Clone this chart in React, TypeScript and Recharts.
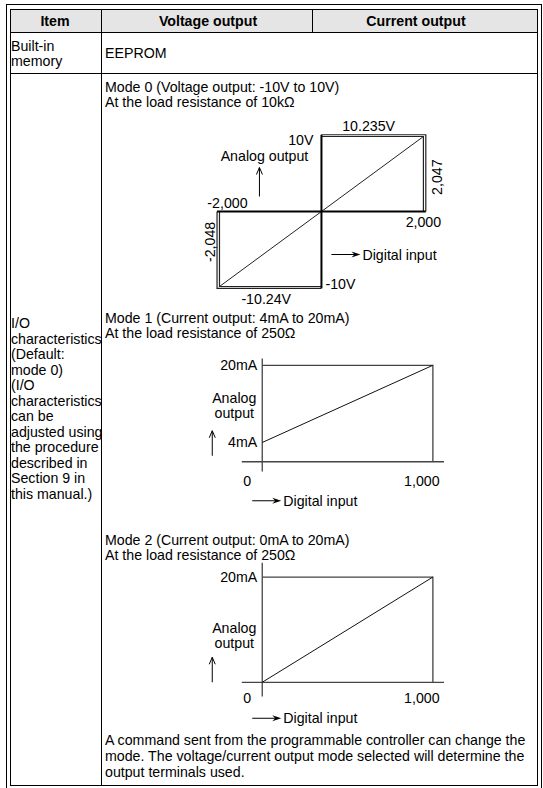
import React from 'react';
import { LineChart, Line, XAxis, YAxis, ReferenceDot } from 'recharts';

// Spec table: analog output module, I/O characteristics sketches.

const HEADERS = ['Item', 'Voltage output', 'Current output'];
const MEMORY_ITEM = ['Built-in', 'memory'];
const MEMORY_VALUE = 'EEPROM';
const IO_ITEM = [
  'I/O',
  'characteristics',
  '(Default:',
  'mode 0)',
  '(I/O',
  'characteristics',
  'can be',
  'adjusted using',
  'the procedure',
  'described in',
  'Section 9 in',
  'this manual.)',
];
const MODE_TITLES = [
  ['Mode 0 (Voltage output: -10V to 10V)', 'At the load resistance of 10k\u03a9'],
  ['Mode 1 (Current output: 4mA to 20mA)', 'At the load resistance of 250\u03a9'],
  ['Mode 2 (Current output: 0mA to 20mA)', 'At the load resistance of 250\u03a9'],
];
const NOTE = [
  'A command sent from the programmable controller can change the',
  'mode. The voltage/current output mode selected will determine the',
  'output terminals used.',
];
const AXIS_Y_TITLE = ['Analog', 'output'];
const AXIS_X_TITLE = 'Digital input';

// mode 0: digital value vs output voltage (min, -full, 0, +full, max)
const M0_DIGITAL = [-2048, -2000, 0, 2000, 2047];
const M0_VOLTS = [-10.24, -10, 0, 10, 10.235];
// mode 1 / mode 2: digital value vs output current
const M1_DIGITAL = [0, 1000];
const M1_MA = [4, 20];
const M2_DIGITAL = [0, 1000];
const M2_MA = [0, 20];
// how far the drawn axes run in the current sketches
const M1_AXIS_X = [-120, 1065];
const M1_AXIS_Y = [-2, 21.4];
const M2_AXIS_X = [-120, 1065];
const M2_AXIS_Y = [-2.7, 22.7];

const FONT = '"Liberation Sans", Arial, Helvetica, sans-serif';
const INK = '#000';
const FS = 14.2;

type Pt = { x: number; y: number };
const pts = (xs: number[], ys: number[]): Pt[] => xs.map((x, i) => ({ x, y: ys[i] }));
const count = (v: number) => v.toLocaleString('en-US');
const volt = (v: number) => `${v}V`;
const milli = (v: number) => `${v}mA`;

type VB = { x: number; y: number };

// label drawn next to a reference point (viewBox comes from recharts)
function Tag({ viewBox, txt, sx = 0, sy = 0, align = 'middle', rot = 0 }: {
  viewBox?: VB; txt: string; sx?: number; sy?: number; align?: 'start' | 'middle' | 'end'; rot?: number;
}) {
  if (!viewBox) return null;
  const x = viewBox.x + sx;
  const y = viewBox.y + sy;
  return (
    <text
      x={x}
      y={y}
      textAnchor={align}
      dominantBaseline="central"
      fontFamily={FONT}
      fontSize={FS}
      fill={INK}
      transform={rot ? `rotate(${rot} ${x} ${y})` : undefined}
    >
      {txt}
    </text>
  );
}

function Pointer({ viewBox, sx = 0, sy = 0, way, len, txt }: {
  viewBox?: VB; sx?: number; sy?: number; way: 'right' | 'up'; len: number; txt?: string;
}) {
  if (!viewBox) return null;
  const x = viewBox.x + sx;
  const y = viewBox.y + sy;
  if (way === 'right') {
    const x2 = x + len;
    return (
      <g>
        <line x1={x} y1={y} x2={x2 - 5} y2={y} stroke={INK} strokeWidth={1} />
        <path d={`M${x2},${y} L${x2 - 9},${y - 3} L${x2 - 6},${y} L${x2 - 9},${y + 3} Z`} fill={INK} />
        {txt && (
          <text x={x2 + 2} y={y} dominantBaseline="central" fontFamily={FONT} fontSize={FS} fill={INK}>
            {txt}
          </text>
        )}
      </g>
    );
  }
  const y2 = y - len;
  return (
    <g>
      <line x1={x} y1={y} x2={x} y2={y2} stroke={INK} strokeWidth={1} />
      <path d={`M${x - 3},${y2 + 7} L${x},${y2} L${x + 3},${y2 + 7}`} fill="none" stroke={INK} strokeWidth={1} />
    </g>
  );
}

const seg = (d: Pt[], key: string, stroke: string, width: number) => (
  <Line
    key={key}
    data={d}
    dataKey="y"
    type="linear"
    stroke={stroke}
    strokeWidth={width}
    dot={false}
    activeDot={false}
    isAnimationActive={false}
  />
);

const mark = (key: string, x: number, y: number, label: React.ReactElement) => (
  <ReferenceDot key={key} x={x} y={y} r={0} fill="none" stroke="none" ifOverflow="visible" label={label} />
);

function VoltageSketch() {
  const [dMin, dNeg, , dPos, dMax] = M0_DIGITAL;
  const [vMin, vNeg, , vPos, vMax] = M0_VOLTS;
  const axes = [pts([dMin, dMax], [0, 0]), pts([0, 0], [vMin, vMax])];
  const frames = [
    pts([0, dMax, dMax], [vMax, vMax, 0]),
    pts([0, dPos, dPos], [vPos, vPos, 0]),
    pts([0, dMin, dMin], [vMin, vMin, 0]),
    pts([0, dNeg, dNeg], [vNeg, vNeg, 0]),
  ];
  const slope = pts([dNeg, dPos], [vNeg, vPos]);
  return (
    <LineChart width={260} height={195} margin={{ top: 0, right: 0, bottom: 0, left: 0 }}>
      <XAxis type="number" dataKey="x" domain={[-2500, 2600]} allowDataOverflow hide />
      <YAxis type="number" dataKey="y" domain={[-13, 13]} allowDataOverflow hide />
      {frames.map((d, i) => seg(d, `f${i}`, '#222', 1.2))}
      {seg(slope, 's', '#222', 1)}
      {axes.map((d, i) => seg(d, `a${i}`, INK, 2))}
      {mark('l1', dMax / 2, vMax, <Tag txt={volt(vMax)} sx={-5} sy={-9} />)}
      {mark('l2', 0, vPos, <Tag txt={volt(vPos)} align="end" sx={-8} sy={3} />)}
      {mark('l3', 0, vPos, <Tag txt={AXIS_Y_TITLE.join(' ')} sx={-57} sy={19} />)}
      {mark('l4', 0, 0, <Pointer way="up" len={29} sx={-62} sy={-15} />)}
      {mark('l5', dNeg, 0, <Tag txt={count(dNeg)} sx={8} sy={-9} />)}
      {mark('l6', dMax, vMax / 2, <Tag txt={count(dMax)} rot={-90} sx={11} sy={4} />)}
      {mark('l7', dPos, 0, <Tag txt={count(dPos)} sx={0} sy={10} />)}
      {mark('l8', dMin, vMin / 2, <Tag txt={count(dMin)} rot={-90} sx={-7} sy={-8} />)}
      {mark('l9', 0, 0, <Pointer way="right" len={29} sx={10} sy={43} txt={AXIS_X_TITLE} />)}
      {mark('l10', 0, vNeg, <Tag txt={volt(vNeg)} align="start" sx={4} sy={-3} />)}
      {mark('l11', dMin / 2, vMin, <Tag txt={volt(vMin)} sx={-3} sy={11} />)}
    </LineChart>
  );
}

function CurrentSketch({ digital, ma, axisX, axisY, height, yMin, zeroDy, titleDy, arrowDy, arrowLen, inputDy }: {
  digital: number[]; ma: number[]; axisX: number[]; axisY: number[]; height: number; yMin: number;
  zeroDy: number; titleDy: number; arrowDy: number; arrowLen: number; inputDy: number;
}) {
  const [d0, d1] = digital;
  const [m0, m1] = ma;
  const axes = [pts(axisX, [0, 0]), pts([0, 0], axisY)];
  const frame = pts([0, d1, d1], [m1, m1, 0]);
  const slope = pts([d0, d1], [m0, m1]);
  return (
    <LineChart width={273} height={height} margin={{ top: 0, right: 0, bottom: 0, left: 0 }}>
      <XAxis type="number" dataKey="x" domain={[-400, 1200]} allowDataOverflow hide />
      <YAxis type="number" dataKey="y" domain={[yMin, 24]} allowDataOverflow hide />
      {axes.map((d, i) => seg(d, `a${i}`, '#444', 1.3))}
      {seg(frame, 'f', '#444', 1.3)}
      {seg(slope, 's', '#111', 1)}
      {mark('t20', 0, m1, <Tag txt={milli(m1)} align="end" sx={-5} />)}
      {m0 > 0 && mark('t4', 0, m0, <Tag txt={milli(m0)} align="end" sx={-5} />)}
      {mark('ya', 0, m1, <Tag txt={AXIS_Y_TITLE[0]} sx={-28} sy={titleDy} />)}
      {mark('yb', 0, m1, <Tag txt={AXIS_Y_TITLE[1]} sx={-28} sy={titleDy + 15} />)}
      {mark('yr', 0, 0, <Pointer way="up" len={arrowLen} sx={-50} sy={arrowDy} />)}
      {mark('x0', 0, 0, <Tag txt={count(d0)} sx={-15} sy={zeroDy} />)}
      {mark('x1', d1, 0, <Tag txt={count(d1)} sx={-11} sy={zeroDy} />)}
      {mark('xr', 0, 0, <Pointer way="right" len={29} sx={-10} sy={inputDy} txt={AXIS_X_TITLE} />)}
    </LineChart>
  );
}

const box = (left: number, top: number, width: number, height: number, extra: React.CSSProperties = {}) => ({
  position: 'absolute' as const, left, top, width, height, ...extra,
});

function Txt({ x, y, children, bold, center, w }: { x: number; y: number; children: React.ReactNode; bold?: boolean; center?: boolean; w?: number }) {
  return (
    <div
      style={{
        position: 'absolute',
        left: center ? x - (w ?? 200) / 2 : x,
        top: y - 8,
        width: center ? w ?? 200 : undefined,
        height: 16,
        lineHeight: '16px',
        whiteSpace: 'nowrap',
        textAlign: center ? 'center' : 'left',
        fontWeight: bold ? 700 : 400,
      }}
    >
      {children}
    </div>
  );
}

export default function App() {
  const L = 10, T = 9, R = 537, B = 785, C1 = 101, C2 = 312, H = 32, R1 = 73;
  const rule = '#000';
  return (
    <div style={{ position: 'relative', width: 543, height: 788, fontFamily: FONT, fontSize: FS, color: INK, background: '#fff' }}>
      <style>{'body{margin:0}'}</style>
      {/* page frame */}
      <div style={box(6, 4, 536, 1, { background: rule })} />
      <div style={box(6, 4, 1, 784, { background: rule })} />
      <div style={box(541, 4, 1, 784, { background: rule })} />
      {/* table */}
      <div style={box(L, T, R - L, H - T, { background: '#e5e5e5' })} />
      <div style={box(L, T, R - L, 1, { background: rule })} />
      <div style={box(L, H, R - L, 1, { background: rule })} />
      <div style={box(L, R1, R - L, 1, { background: rule })} />
      <div style={box(L, B, R - L + 1, 1, { background: rule })} />
      <div style={box(L, T, 1, B - T, { background: rule })} />
      <div style={box(C1, T, 1, B - T, { background: rule })} />
      <div style={box(C2, T, 1, H - T, { background: rule })} />
      <div style={box(R, T, 1, B - T, { background: rule })} />

      <Txt x={55} y={20.5} bold center w={90}>{HEADERS[0]}</Txt>
      <Txt x={208} y={20.5} bold center>{HEADERS[1]}</Txt>
      <Txt x={416} y={20.5} bold center>{HEADERS[2]}</Txt>

      {MEMORY_ITEM.map((s, i) => (
        <Txt key={s} x={11} y={45.5 + i * 15}>{s}</Txt>
      ))}
      <Txt x={105} y={53}>{MEMORY_VALUE}</Txt>

      {IO_ITEM.map((s, i) => (
        <Txt key={i} x={11} y={323 + i * 15.5}>{s}</Txt>
      ))}

      {[87, 318, 540].map((y, m) =>
        MODE_TITLES[m].map((s, i) => (
          <Txt key={`${m}-${i}`} x={105} y={y + i * 15}>{s}</Txt>
        ))
      )}
      {NOTE.map((s, i) => (
        <Txt key={i} x={105} y={740 + i * 16}>{s}</Txt>
      ))}

      <div style={box(194, 114, 260, 195)}>
        <VoltageSketch />
      </div>
      <div style={box(194, 346, 273, 164)}>
        <CurrentSketch digital={M1_DIGITAL} ma={M1_MA} axisX={M1_AXIS_X} axisY={M1_AXIS_Y} height={164} yMin={-10}
          zeroDy={19} titleDy={33} arrowDy={-6} arrowLen={25} inputDy={39} />
      </div>
      <div style={box(194, 556, 273, 171)}>
        <CurrentSketch digital={M2_DIGITAL} ma={M2_MA} axisX={M2_AXIS_X} axisY={M2_AXIS_Y} height={171} yMin={-8.5}
          zeroDy={16} titleDy={51} arrowDy={0} arrowLen={25} inputDy={36} />
      </div>
    </div>
  );
}
